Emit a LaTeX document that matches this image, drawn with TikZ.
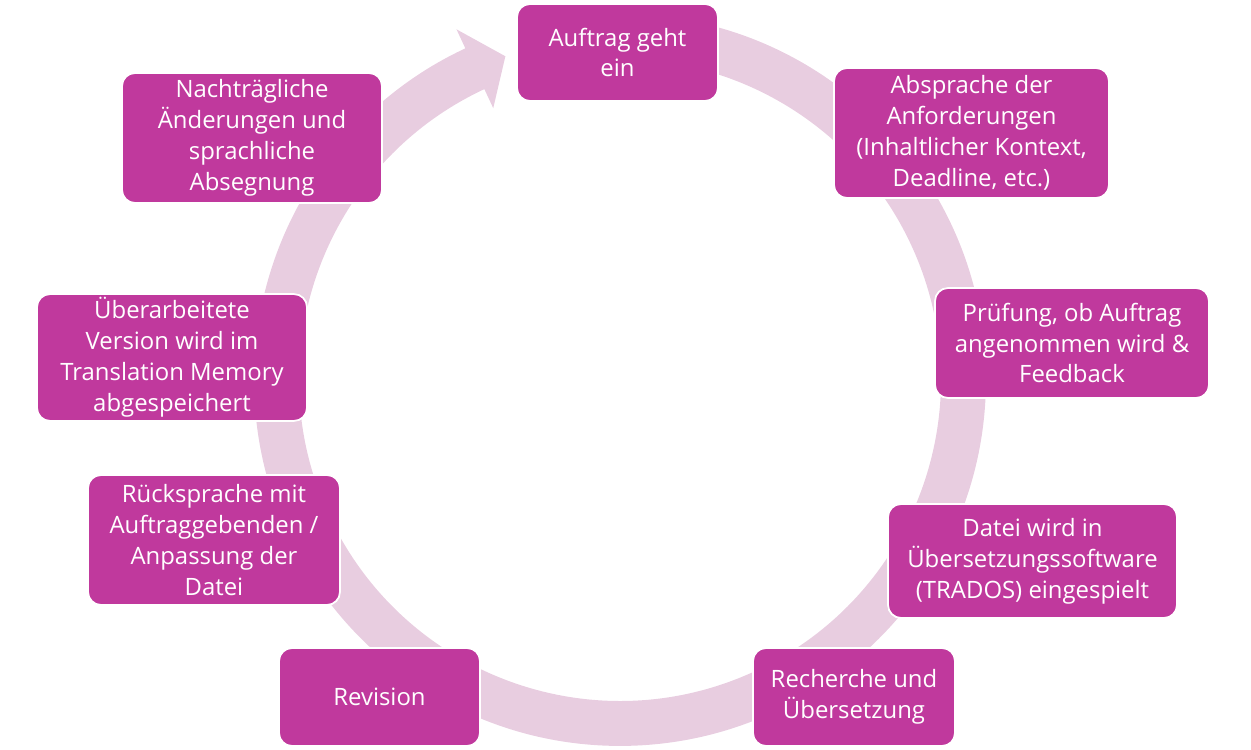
\documentclass[tikz,border=0pt]{standalone}
\usepackage{fontspec}
\setmainfont{Open Sans}
\usetikzlibrary{positioning}
\definecolor{boxmag}{HTML}{C0399D}
\definecolor{ringpink}{HTML}{E8CDE0}

\begin{document}
\begin{tikzpicture}[x=0.02cm,y=0.02cm,
    stage/.style={rectangle,rounded corners=0.26cm,fill=boxmag,draw=white,line width=1pt,
                  text=white,align=center,inner sep=2pt,
                  font=\fontsize{13.6}{17.6}\selectfont}]
   \useasboundingbox (0,0) rectangle (1251,750);
   % ring with arrow head
   \begin{scope}[shift={(620,370)}]
    \fill[ringpink] (90:7.32cm) arc[start angle=90,end angle=-245,radius=7.32cm]
          -- (115:7.74cm) -- (109.5:6.87cm) -- (115:6.0cm) -- (115:6.42cm)
          arc[start angle=-245,end angle=90,radius=6.42cm] -- cycle;
   \end{scope}
   \node[stage,minimum width=4.02cm,minimum height=1.94cm] (s_0) at (617.5,697.5) {Auftrag geht\\ein};
   \node[stage,minimum width=5.5cm,minimum height=2.6cm] (s_1) at (971.5,617) {Absprache der\\Anforderungen\\(Inhaltlicher Kontext,\\Deadline, etc.)};
   \node[stage,minimum width=5.48cm,minimum height=2.2cm] (s_2) at (1072,407) {Prüfung, ob Auftrag\\angenommen wird \&\\Feedback};
   \node[stage,minimum width=5.78cm,minimum height=2.28cm] (s_3) at (1032.5,189) {Datei wird in\\Übersetzungssoftware\\(TRADOS) eingespielt};
   \node[stage,minimum width=4.04cm,minimum height=1.96cm] (s_4) at (854,53) {Recherche und\\Übersetzung};
   \node[stage,minimum width=4.02cm,minimum height=1.96cm] (s_5) at (379.5,53) {Revision};
   \node[stage,minimum width=5.04cm,minimum height=2.6cm] (s_6) at (214,210) {Rücksprache mit\\Auftraggebenden /\\Anpassung der\\Datei};
   \node[stage,minimum width=5.4cm,minimum height=2.38cm] (s_7) at (172,392.5) {Überarbeitete\\Version wird im\\Translation Memory\\abgespeichert};
   \node[stage,minimum width=5.2cm,minimum height=2.6cm] (s_8) at (252,612) {Nachträgliche\\Änderungen und\\sprachliche\\Absegnung};
\end{tikzpicture}
\end{document}
